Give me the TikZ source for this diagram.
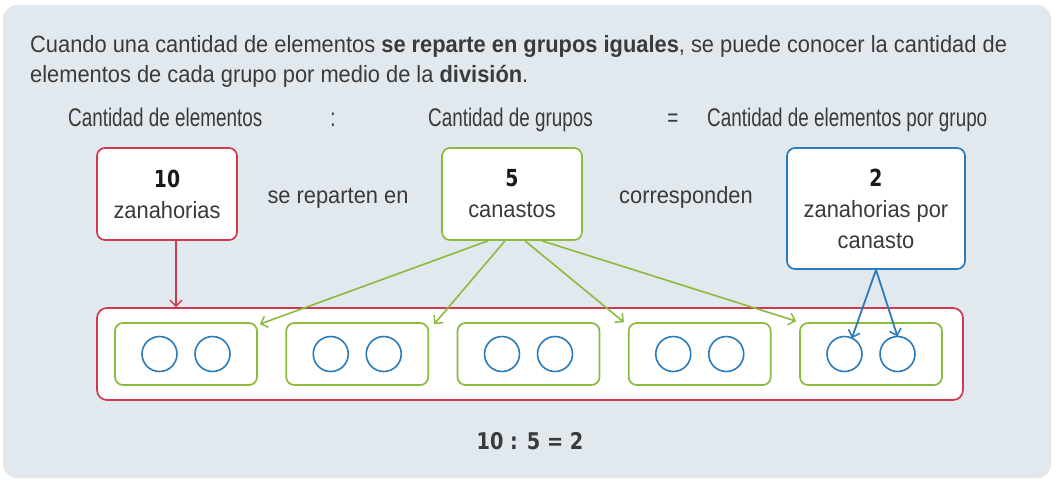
\documentclass[tikz,border=0pt]{standalone}
\usepackage{fontspec}
\usetikzlibrary{arrows.meta,calc}
\setmainfont{Liberation Sans}
\newfontfamily\bodyf[FakeStretch=0.93]{Liberation Sans}
\newfontfamily\headf[FakeStretch=0.74]{Liberation Sans}
\newfontfamily\numf[FakeStretch=0.8]{DejaVu Sans}
\newfontfamily\eqf[FakeStretch=0.84]{DejaVu Sans}
\definecolor{panel}{HTML}{E1E8EE}
\definecolor{txt}{HTML}{3A3A3A}
\definecolor{rd}{HTML}{D0384F}
\definecolor{gr}{HTML}{8CBA3F}
\definecolor{bl}{HTML}{2B7BBA}
\tikzset{
  bodytext/.style={inner sep=0pt, text=txt, font=\bodyf\fontsize{23.5}{30}\selectfont},
  headtext/.style={inner sep=0pt, text=txt, font=\headf\fontsize{25.5}{30}\selectfont},
  boxbase/.style={draw, line width=1.7pt, rounded corners=8pt, fill=white, inner sep=0pt,
     align=center, text=txt, font=\bodyf\fontsize{23.5}{31}\selectfont},
  rbox/.style={boxbase, draw=rd},
  gbox/.style={boxbase, draw=gr},
  bbox/.style={boxbase, draw=bl},
  basket/.style={draw=gr, line width=1.7pt, rounded corners=8pt, fill=white,
     minimum width=142pt, minimum height=62pt, inner sep=0pt},
  carrot/.style={draw=bl, line width=1.6pt, circle, minimum size=35pt, inner sep=0pt, outer sep=0pt},
  garrow/.style={draw=gr, line width=1.6pt, -{Straight Barb[length=6pt,width=12pt,line width=1.5pt]}},
  rarrow/.style={draw=rd, line width=1.5pt, -{Straight Barb[length=6pt,width=12pt,line width=1.5pt]}},
  barrow/.style={draw=bl, line width=1.8pt, -{Straight Barb[length=6pt,width=12pt,line width=1.6pt]}},
  numtext/.style={font=\eqf\bfseries\fontsize{23}{28}\selectfont, text=txt}
}
\begin{document}
\begin{tikzpicture}[x=1pt,y=-1pt]
\useasboundingbox (0,0) rectangle (1058,480);
\fill[white] (0,0) rectangle (1058,480);
\fill[panel, rounded corners=14pt] (3,5) rectangle (1051,478);

% intro text
\node[bodytext, anchor=base west] (l1) at (30,52)
  {Cuando una cantidad de elementos {\bfseries se reparte en grupos iguales}, se puede conocer la cantidad de};
\node[bodytext, anchor=base west] (l2) at (30,82)
  {elementos de cada grupo por medio de la {\bfseries división}.};

% header
\node[headtext, anchor=base west] (h1) at (68,126) {Cantidad de elementos};
\node[headtext, anchor=base] (h2) at (333,126) {:};
\node[headtext, anchor=base west] (h3) at (428,126) {Cantidad de grupos};
\node[headtext, anchor=base] (h4) at (673,126) {=};
\node[headtext, anchor=base west] (h5) at (707,126) {Cantidad de elementos por grupo};

% boxes
\node[rbox, minimum width=140pt, minimum height=92pt] (ten) at (167,194)
  {{\numf\bfseries\color{black!90}10}\\zanahorias};
\node[bodytext, anchor=base] (rep) at (338,203) {se reparten en};
\node[gbox, minimum width=140pt, minimum height=92pt] (cnt) at (512,194)
  {{\numf\bfseries\color{black!90}5}\\canastos};
\node[bodytext, anchor=base] (cor) at (686,203) {corresponden};
\node[bbox, minimum width=178pt, minimum height=121pt] (two) at (876,208.5)
  {{\numf\bfseries\color{black!90}2}\\zanahorias por\\canasto};

% big rectangle
\node[draw=rd, line width=1.7pt, rounded corners=10pt, fill=white,
  minimum width=866pt, minimum height=92pt, inner sep=0pt] (big) at (530,354) {};

% baskets and carrots
\foreach \i/\x in {1/115,2/286.25,3/457.5,4/628.75,5/800}{
  \node[basket] (b\i) at (\x+71,354) {};
  \node[carrot] (c\i a) at (\x+44.5,354) {};
  \node[carrot] (c\i b) at (\x+97.5,354) {};
}

% arrows
\draw[rarrow] ([xshift=9pt]ten.south) -- ([xshift=9pt]ten.south |- big.north);
\draw[garrow] ([xshift=-24pt]cnt.south) -- ([xshift=2pt,yshift=-2pt]b1.north east);
\draw[garrow] ([xshift=-7pt]cnt.south) -- ([xshift=5pt,yshift=-2pt]b2.north east);
\draw[garrow] ([xshift=13pt]cnt.south) -- ([xshift=-4pt,yshift=0pt]b4.north west);
\draw[garrow] ([xshift=30pt]cnt.south) -- ([xshift=-3pt,yshift=1pt]b5.north west);
\draw[barrow] (two.south) -- (c5a.65);
\draw[barrow] (two.south) -- (c5b.north);

% equation
\node[numtext, anchor=base] (eq) at (530,449) {10 : 5 = 2};
\end{tikzpicture}
\end{document}
